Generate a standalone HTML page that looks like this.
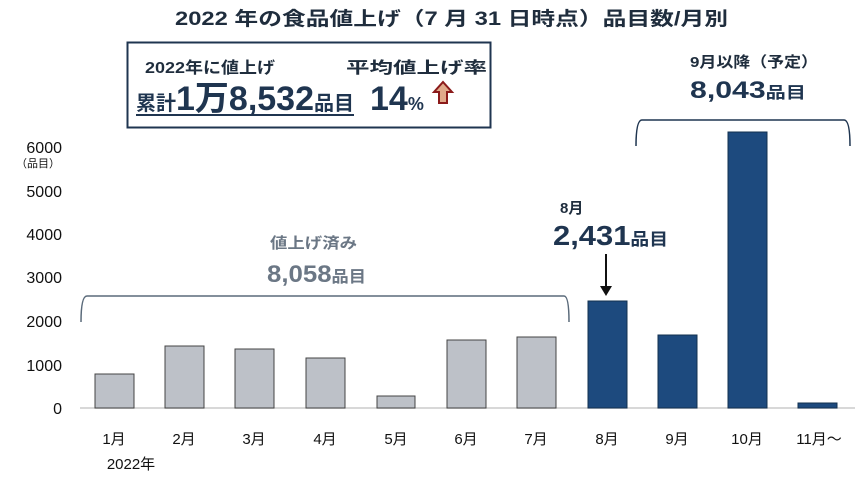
<!DOCTYPE html>
<html><head><meta charset="utf-8"><style>
body{margin:0;background:#fff;}
svg{display:block;font-family:"Liberation Sans","Noto Sans CJK JP",sans-serif;}
</style></head><body>
<svg width="864" height="479" viewBox="0 0 864 479" xmlns="http://www.w3.org/2000/svg">
<text x="175" y="25" font-size="19" font-weight="bold" fill="#1f2d3d" textLength="553" lengthAdjust="spacingAndGlyphs">2022 年の食品値上げ（7 月 31 日時点）品目数/月別</text>
<rect x="127.5" y="42.5" width="363" height="85" fill="#fff" stroke="#1f3550" stroke-width="2"/>
<text x="145" y="73" font-size="16" font-weight="bold" fill="#1f2d3d" textLength="130" lengthAdjust="spacingAndGlyphs">2022年に値上げ</text>
<text x="136" y="110" font-size="20" font-weight="bold" fill="#1f3550" textLength="218" lengthAdjust="spacingAndGlyphs">累計<tspan font-size="34">1万8,532</tspan><tspan font-size="20">品目</tspan></text>
<line x1="136" y1="115" x2="354" y2="115" stroke="#1f3550" stroke-width="2"/>
<text x="346" y="73" font-size="16" font-weight="bold" fill="#1f2d3d" textLength="141" lengthAdjust="spacingAndGlyphs">平均値上げ率</text>
<text x="370" y="110" font-size="34" font-weight="bold" fill="#1f3550">14<tspan font-size="18">%</tspan></text>
<path d="M443 82 L452 92 L447 92 L447 103 L439 103 L439 92 L434 92 Z" fill="#e0a98a" stroke="#8b1a1a" stroke-width="2"/>
<g font-size="16" fill="#111" text-anchor="end">
<text x="62" y="153">6000</text>
<text x="62" y="197">5000</text>
<text x="62" y="240">4000</text>
<text x="62" y="283">3000</text>
<text x="62" y="327">2000</text>
<text x="62" y="371">1000</text>
<text x="62" y="414">0</text>
</g>
<text x="16" y="167" font-size="11" fill="#111">（品目）</text>
<line x1="80" y1="408" x2="855" y2="408" stroke="#ccc" stroke-width="1.5"/>
<g fill="#bdc1c8" stroke="#444" stroke-width="1">
<rect x="95" y="374" width="39" height="34"/>
<rect x="165" y="346" width="39" height="62"/>
<rect x="235" y="349" width="39" height="59"/>
<rect x="306" y="358" width="39" height="50"/>
<rect x="377" y="396" width="38" height="12"/>
<rect x="447" y="340" width="39" height="68"/>
<rect x="517" y="337" width="39" height="71"/>
</g>
<g fill="#1d4a7e" stroke="#12304f" stroke-width="1">
<rect x="588" y="301" width="39" height="107"/>
<rect x="658" y="335" width="39" height="73"/>
<rect x="728" y="132" width="39" height="276"/>
<rect x="798" y="403" width="39" height="5"/>
</g>
<g font-size="15" fill="#111" text-anchor="middle">
<text x="114" y="444">1月</text><text x="184" y="444">2月</text><text x="254" y="444">3月</text>
<text x="325" y="444">4月</text><text x="396" y="444">5月</text><text x="466" y="444">6月</text>
<text x="536" y="444">7月</text><text x="607" y="444">8月</text><text x="677" y="444">9月</text>
<text x="747" y="444">10月</text><text x="819" y="444">11月～</text>
<text x="131" y="469">2022年</text>
</g>
<path d="M81 322 Q81 296 87 296 L564 296 Q569 296 569 322" fill="none" stroke="#5a6a7a" stroke-width="1.5"/>
<text x="270" y="248" font-size="15" font-weight="bold" fill="#6b7785" textLength="87" lengthAdjust="spacingAndGlyphs">値上げ済み</text>
<text x="267" y="282" font-size="24" font-weight="bold" fill="#6b7785" textLength="99" lengthAdjust="spacingAndGlyphs">8,058<tspan font-size="16">品目</tspan></text>
<path d="M636 146 Q636 120 642 120 L844 120 Q850 120 850 146" fill="none" stroke="#1f3550" stroke-width="1.5"/>
<text x="690" y="67" font-size="15" font-weight="bold" fill="#1f2d3d" textLength="128" lengthAdjust="spacingAndGlyphs">9月以降（予定）</text>
<text x="690" y="98" font-size="24" font-weight="bold" fill="#1f3550" textLength="116" lengthAdjust="spacingAndGlyphs">8,043<tspan font-size="16">品目</tspan></text>
<text x="560" y="213" font-size="15" font-weight="bold" fill="#1f2d3d">8月</text>
<text x="553" y="245" font-size="28" font-weight="bold" fill="#1f3550" textLength="115" lengthAdjust="spacingAndGlyphs">2,431<tspan font-size="17">品目</tspan></text>
<line x1="606" y1="254" x2="606" y2="290" stroke="#111" stroke-width="2"/>
<path d="M600 286 L606 296 L612 286 Z" fill="#111"/>
</svg>
</body></html>
